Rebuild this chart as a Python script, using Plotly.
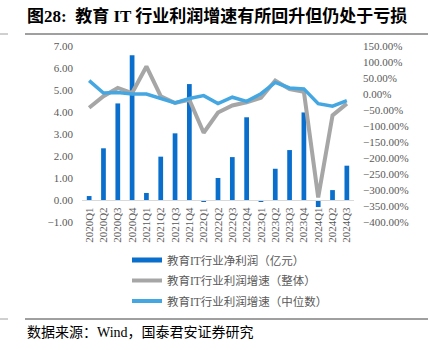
import plotly.graph_objects as go

categories = ["2020Q1", "2020Q2", "2020Q3", "2020Q4", "2021Q1", "2021Q2", "2021Q3", "2021Q4",
              "2022Q1", "2022Q2", "2022Q3", "2022Q4", "2023Q1", "2023Q2", "2023Q3", "2023Q4",
              "2024Q1", "2024Q2", "2024Q3"]
net_profit = [0.18, 2.35, 4.39, 6.58, 0.32, 1.97, 3.03, 5.27,
              -0.05, 1.00, 1.95, 3.76, -0.05, 1.42, 2.27, 3.98,
              -0.32, 0.45, 1.56]
growth_total = [-0.43, -0.07, 0.19, 0.03, 0.86, -0.07, -0.28, -0.18,
                -1.21, -0.58, -0.36, -0.26, -0.12, 0.42, 0.15, 0.07,
                -3.23, -0.67, -0.30]
growth_median = [0.42, 0.03, 0.05, 0.00, 0.00, -0.14, -0.28, -0.14,
                 -0.05, -0.30, -0.10, -0.23, 0.01, 0.36, 0.19, 0.16,
                 -0.30, -0.38, -0.21]
left_range = [-1, 7]
right_range = [-4, 1.5]

name_bar = "教育IT行业净利润（亿元）"
name_total = "教育IT行业利润增速（整体）"
name_median = "教育IT行业利润增速（中位数）"
title_text = "图28:  教育 IT 行业利润增速有所回升但仍处于亏损"
source_text = "数据来源：Wind，国泰君安证券研究"

BAR_C = "#0A6FCC"
GRAY_C = "#A6A6A6"
LBLUE_C = "#45A7E2"
TICK_C = "#595959"
SERIF = "Liberation Serif, Noto Sans CJK SC, serif"

W, H = 436, 350
L, R, T, B = 82, 82, 46, 128
PW, PH = W - L - R, H - T - B


def px(x):
    return (x - L) / PW


def py(y):
    return (H - B - y) / PH


fig = go.Figure()
fig.add_trace(go.Bar(x=categories, y=net_profit, marker_color=BAR_C, marker_line_width=0,
                     width=0.33, showlegend=False, name=name_bar, yaxis="y"))
fig.add_trace(go.Scatter(x=categories, y=growth_total, mode="lines", name=name_total,
                         line=dict(color=GRAY_C, width=4), yaxis="y2", showlegend=False))
fig.add_trace(go.Scatter(x=categories, y=growth_median, mode="lines", name=name_median,
                         line=dict(color=LBLUE_C, width=3.5), yaxis="y2", showlegend=False))
# legend entries (line-style keys), one legend each so they can be placed exactly
fig.add_trace(go.Scatter(x=[None], y=[None], mode="lines", name=name_bar,
                         line=dict(color=BAR_C, width=5), yaxis="y", legend="legend"))
fig.add_trace(go.Scatter(x=[None], y=[None], mode="lines", name=name_total,
                         line=dict(color=GRAY_C, width=4), yaxis="y2", legend="legend2"))
fig.add_trace(go.Scatter(x=[None], y=[None], mode="lines", name=name_median,
                         line=dict(color=LBLUE_C, width=4), yaxis="y2", legend="legend3"))

zero_pos = (0 - left_range[0]) / (left_range[1] - left_range[0])

leg_font = dict(family=SERIF, size=11.5, color=TICK_C)


def leg(ycenter):
    return dict(orientation="v", x=px(127), y=py(ycenter), xanchor="left", yanchor="middle",
                bgcolor="rgba(0,0,0,0)", font=leg_font, itemwidth=30)


fig.update_layout(
    width=W, height=H,
    margin=dict(l=L, r=R, t=T, b=B, pad=0),
    paper_bgcolor="white", plot_bgcolor="white",
    font=dict(family=SERIF, color=TICK_C, size=11),
    xaxis=dict(type="category", categoryorder="array", categoryarray=categories,
               anchor="free", position=zero_pos, showline=True, linecolor="#D9D9D9",
               linewidth=1, showgrid=False, zeroline=False, ticks="", tickangle=-90,
               tickfont=dict(family=SERIF, size=11, color=TICK_C), automargin=False,
               ticklabelstandoff=2),
    yaxis=dict(range=left_range, dtick=1, tickformat=".2f", showgrid=False,
               zeroline=False, showline=False, ticks="",
               tickfont=dict(family=SERIF, size=11, color=TICK_C), automargin=False,
               ticklabelstandoff=8),
    yaxis2=dict(range=right_range, dtick=0.5, tickformat=".2%", overlaying="y",
                side="right", showgrid=False, zeroline=False, showline=False, ticks="",
                tickfont=dict(family=SERIF, size=11, color=TICK_C), automargin=False,
                ticklabelstandoff=8),
    legend=leg(260),
    legend2=leg(280.5),
    legend3=leg(301),
    bargap=0.67,
)

fig.add_annotation(text="<b>" + title_text + "</b>", xref="paper", yref="paper",
                   x=px(25), y=py(16), xanchor="left", yanchor="middle", showarrow=False,
                   font=dict(family=SERIF, size=17, color="#000000"))
fig.add_annotation(text=source_text, xref="paper", yref="paper",
                   x=px(25), y=py(332), xanchor="left", yanchor="middle", showarrow=False,
                   font=dict(family=SERIF, size=14, color="#000000"))

for (x0, x1, y, c) in [(25, 428, 34, "#404040"), (0, 8, 34, "#A0A0A0"),
                       (25, 428, 319, "#404040"), (0, 8, 319, "#A0A0A0")]:
    fig.add_shape(type="line", xref="paper", yref="paper", x0=px(x0), x1=px(x1),
                  y0=py(y), y1=py(y), line=dict(color=c, width=1))

fig.write_html("out.html")
